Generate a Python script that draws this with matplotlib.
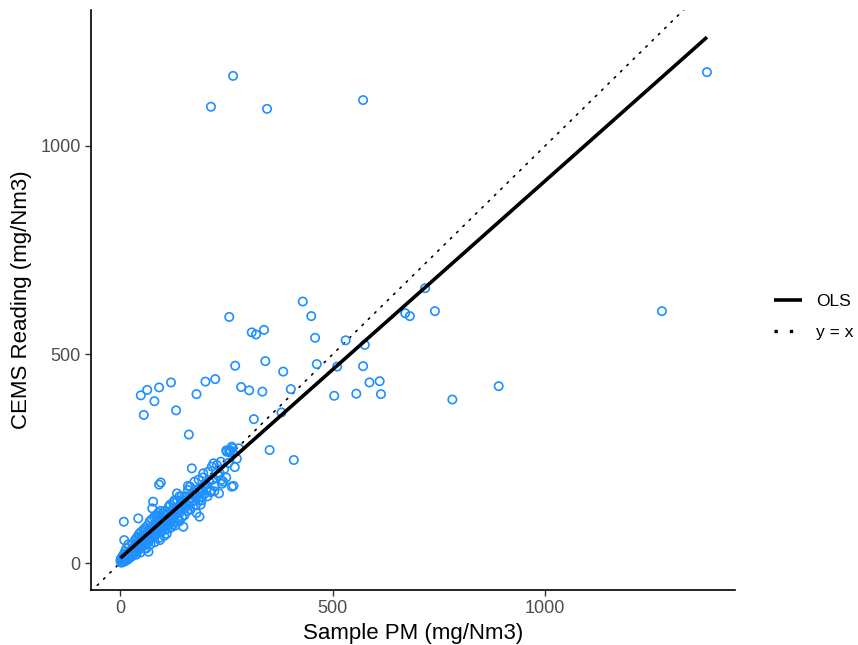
import numpy as np
import matplotlib
matplotlib.use("Agg")
import matplotlib.pyplot as plt
from matplotlib.lines import Line2D

plt.rcParams['font.family'] = ['Liberation Sans', 'DejaVu Sans']

# ---- data ----
sample_pm = [
    2, 3, 4, 5, 6, 7, 8, 9, 10, 11, 12, 13, 14, 15, 16, 17, 18, 19, 20, 21,
    22, 23, 24, 25, 26, 27, 28, 29, 30, 5, 8, 12, 15, 10, 9, 20, 25, 18, 3, 6,
    1, 2, 4, 7,
    31, 32, 33, 34, 35, 36, 37, 38, 39, 40, 41, 42, 43, 44, 45, 46, 47, 48, 49, 50,
    51, 52, 53, 54, 55, 56, 57, 58, 59, 60, 35, 40, 45, 50, 55, 60, 38, 48, 58, 67, 30,
    62, 63, 64, 65, 66, 67, 68, 69, 70, 71, 72, 73, 74, 75, 76, 77, 78, 79, 80, 81,
    82, 83, 84, 85, 86, 87, 88, 89, 90, 91, 92, 93, 94, 95, 96, 97, 98, 99, 100,
    65, 70, 75, 80, 85, 90, 95, 62, 72, 82, 92,
    102, 104, 106, 108, 110, 112, 114, 116, 118, 120, 122, 124, 126, 128, 130, 132, 134, 136, 138, 140,
    142, 144, 146, 148, 149, 150, 105, 115, 125, 135, 145, 110, 120, 130, 140, 118, 128, 104,
    152, 154, 156, 158, 160, 162, 165, 166, 168, 169, 170, 172, 175, 178, 180, 182, 185, 187, 188, 190,
    192, 195, 198, 200, 175, 185, 195, 160, 180, 190,
    205, 210, 212, 216, 218, 222, 228, 230, 233, 235, 238, 240, 243, 245, 250, 255, 260, 263, 265, 270,
    275, 280, 250, 258, 220, 237, 251, 196, 208, 214, 267, 257, 263,
    112, 125, 138, 152, 166, 178, 192, 206, 222, 100, 88, 140, 160, 60, 45,
    430, 450, 459, 257, 310, 320, 339, 271, 342, 384, 463, 49, 64, 92, 120, 81, 56, 132, 180, 201,
    224, 285, 304, 335, 402, 315, 162, 380, 352, 409, 718, 671, 682, 741, 531, 576, 511, 572, 587, 611,
    504, 556, 614, 782, 891, 1275, 214, 266, 346, 572, 1381,
]
cems_reading = [
    3, 1, 5, 2, 8, 4, 6, 3, 12, 7, 10, 5, 15, 9, 12, 18, 8, 14, 20, 11,
    17, 25, 13, 22, 19, 28, 16, 24, 30, 14, 20, 28, 35, 55, 99, 45, 30, 26, 9, 15,
    6, 10, 2, 12,
    20, 35, 27, 40, 30, 25, 45, 33, 38, 48, 28, 36, 107, 42, 50, 35, 55, 40, 45, 60,
    38, 50, 62, 45, 55, 68, 42, 52, 65, 58, 55, 62, 70, 75, 80, 85, 20, 25, 35, 27, 45,
    48, 70, 55, 62, 75, 50, 65, 80, 60, 72, 58, 85, 66, 78, 131, 62, 147, 70, 90, 75,
    64, 82, 95, 70, 88, 78, 100, 72, 85, 105, 188, 80, 55, 92, 193, 88, 110, 76, 95,
    90, 100, 105, 110, 115, 120, 125, 35, 45, 50, 60,
    90, 102, 80, 115, 98, 108, 120, 92, 112, 125, 104, 118, 132, 100, 115, 128, 167, 110, 135, 120,
    142, 128, 110, 138, 87, 150, 125, 135, 145, 150, 160, 70, 85, 90, 100, 140, 150, 65,
    130, 145, 160, 125, 150, 138, 183, 155, 145, 227, 165, 150, 170, 140, 160, 175, 150, 111, 170, 180,
    158, 175, 165, 190, 195, 200, 205, 175, 120, 140,
    180, 195, 170, 231, 200, 185, 235, 210, 167, 215, 199, 190, 195, 225, 205, 240, 270, 183, 275, 230,
    250, 275, 270, 265, 239, 243, 267, 215, 219, 173, 185, 269, 279,
    82, 92, 105, 115, 128, 138, 150, 160, 172, 118, 110, 160, 185, 80, 62,
    627, 592, 540, 590, 553, 548, 559, 473, 484, 459, 477, 402, 415, 421, 433, 388, 355, 366, 405, 435,
    441, 422, 414, 411, 417, 345, 308, 361, 271, 247, 659, 599, 592, 604, 534, 523, 471, 472, 433, 436,
    401, 406, 405, 392, 424, 604, 1094, 1168, 1089, 1110, 1177,
]
ols_intercept = 11.0
ols_slope = 0.905
x_ticks = [0, 500, 1000]
y_ticks = [0, 500, 1000]
x_label = "Sample PM (mg/Nm3)"
y_label = "CEMS Reading (mg/Nm3)"
legend_labels = ["OLS", "y = x"]

x = np.array(sample_pm, dtype=float)
y = np.array(cems_reading, dtype=float)

# ---- figure ----
fig = plt.figure(figsize=(8.58, 6.45), dpi=100)
ax = fig.add_axes([91 / 858, 55 / 645, (735 - 91) / 858, (590 - 10) / 645])

xlim = (-68.2, 1447)
ylim = (-64.7, 1326)

# y = x reference line
ax.plot(xlim, xlim, color="black", lw=1.2, linestyle=(0, (1, 4.3)),
        dash_capstyle="round", zorder=2)

ax.scatter(x, y, s=36, facecolors="none", edgecolors="#1E90FF",
           linewidths=1.2, zorder=3)

xs = np.array([x.min(), x.max()])
ax.plot(xs, ols_intercept + ols_slope * xs, color="black", lw=2.6,
        solid_capstyle="butt", zorder=4)

ax.set_xlim(*xlim)
ax.set_ylim(*ylim)
ax.set_xticks(x_ticks)
ax.set_yticks(y_ticks)
ax.tick_params(axis="both", colors="#333333", labelcolor="#4D4D4D",
               labelsize=13, length=4, width=1.0)
for side in ("top", "right"):
    ax.spines[side].set_visible(False)
for side in ("left", "bottom"):
    ax.spines[side].set_linewidth(1.2)
    ax.spines[side].set_color("black")

ax.set_xlabel(x_label, fontsize=16, labelpad=4)
ax.set_ylabel(y_label, fontsize=16, labelpad=6)

handles = [
    Line2D([], [], color="black", lw=2.6, solid_capstyle="butt"),
    Line2D([], [], color="black", lw=2.4, linestyle=(0, (1, 3.6))),
]
fig.legend(handles, legend_labels, loc="center left",
           bbox_to_anchor=(0.888, 0.509), frameon=False, fontsize=12.5,
           handlelength=1.6, handletextpad=0.8, labelspacing=0.9,
           borderpad=0.2)

fig.savefig("out.png", dpi=100)
